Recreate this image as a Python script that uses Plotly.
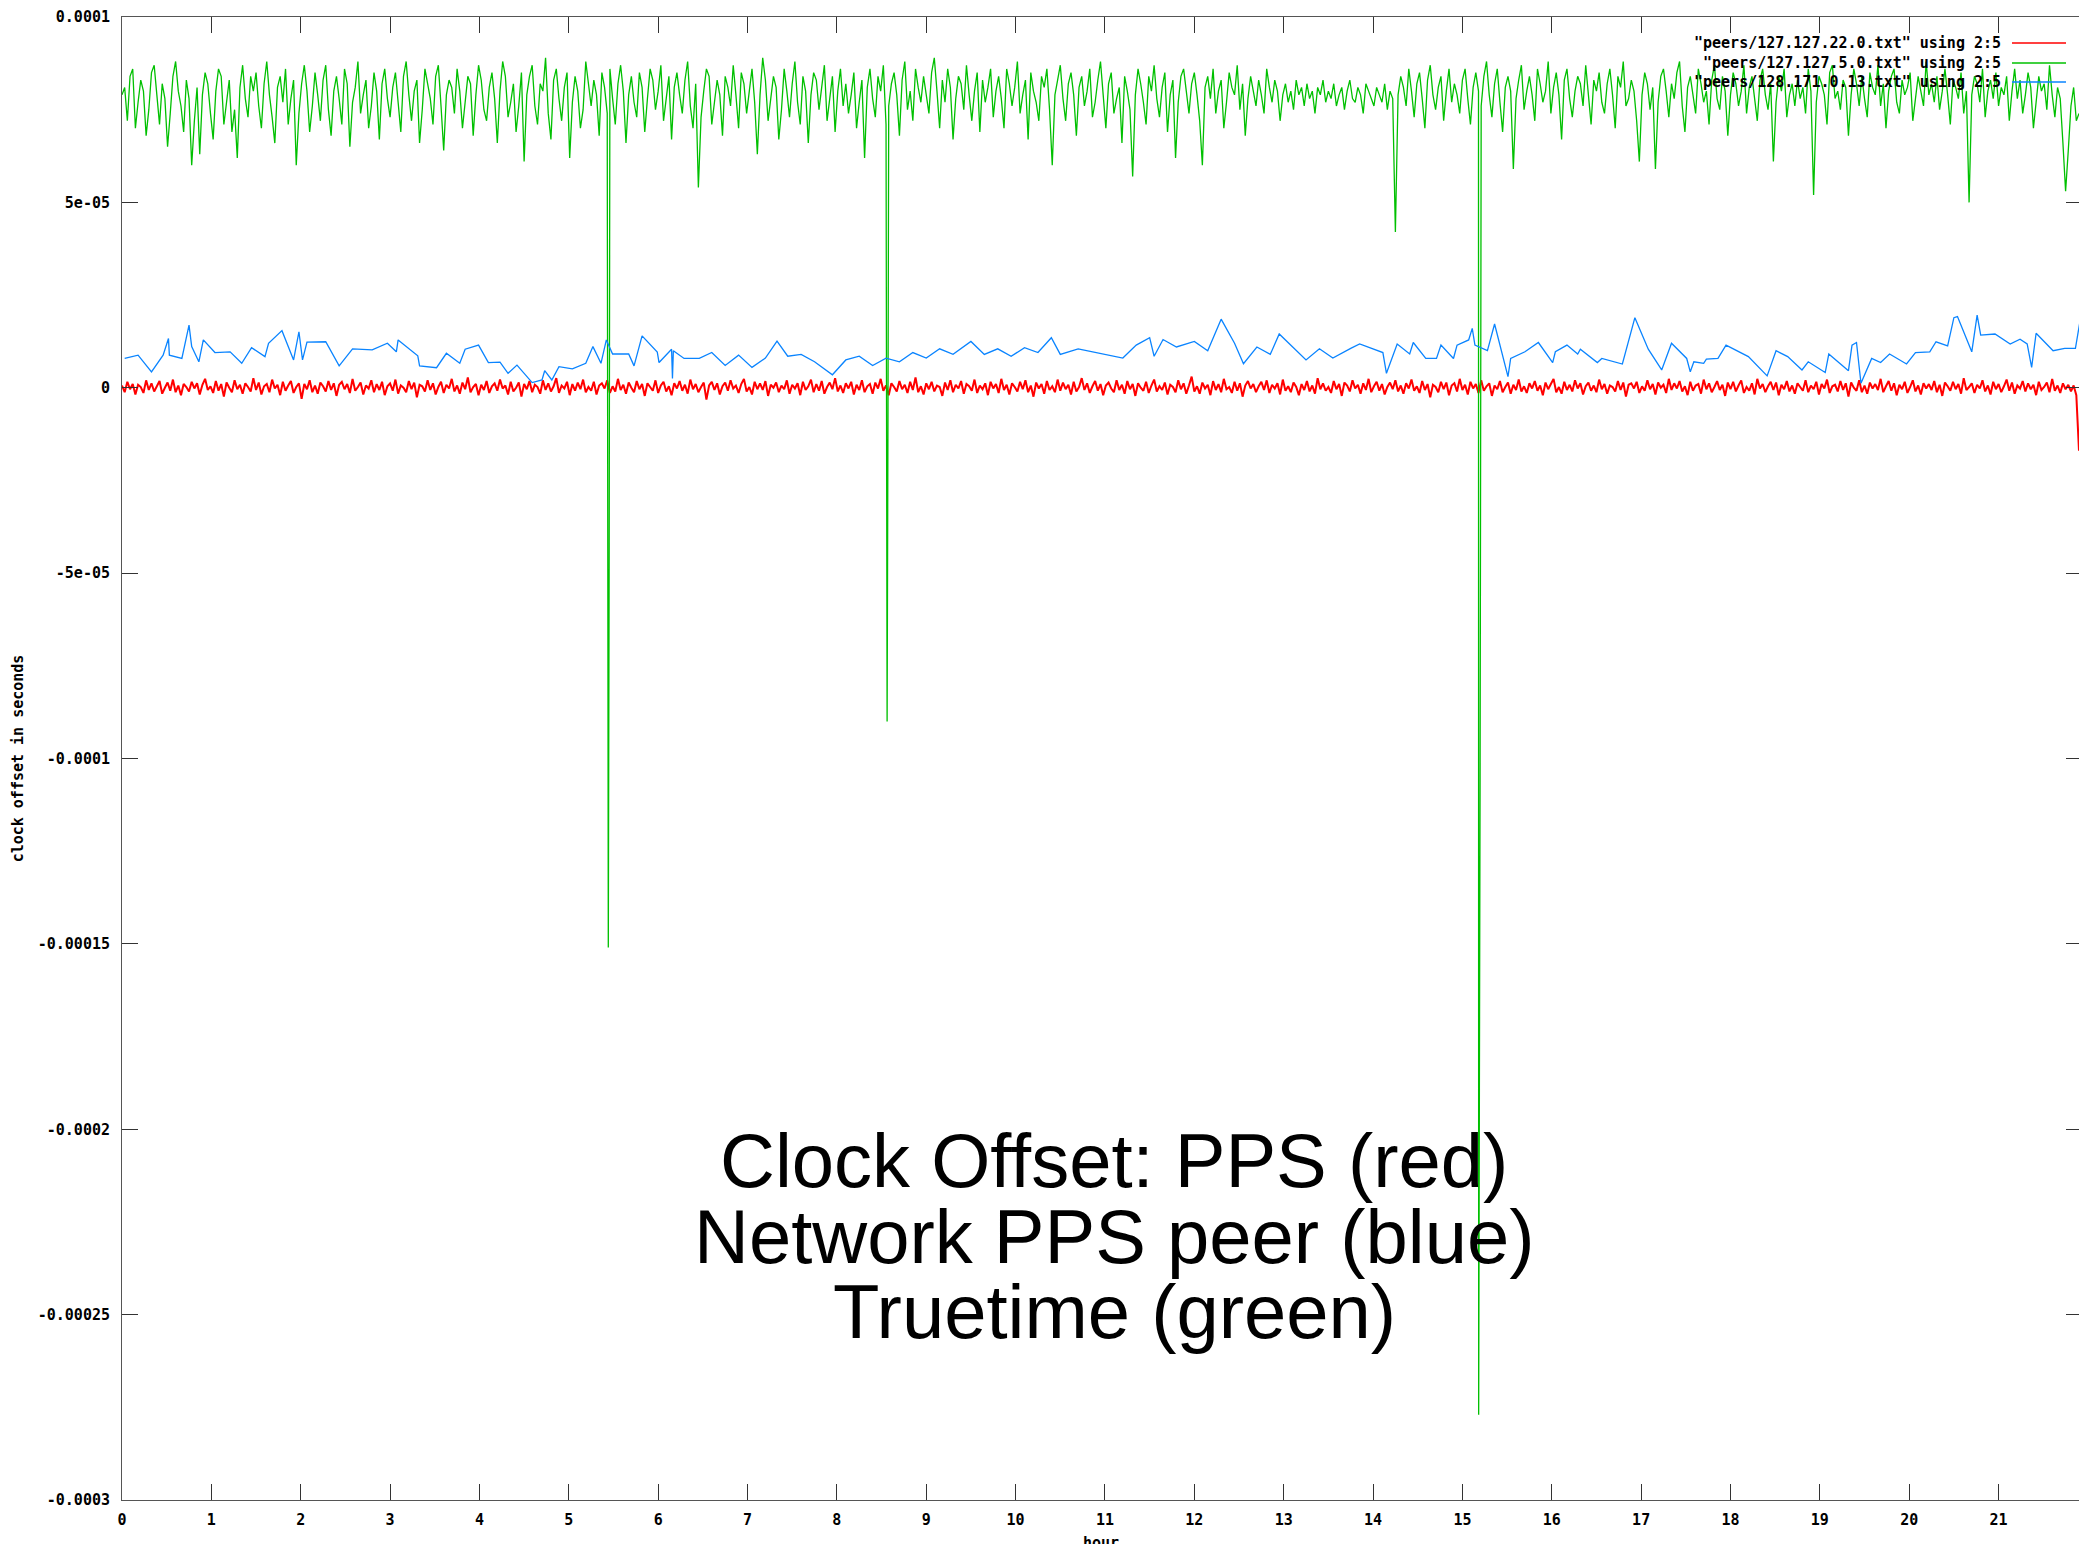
import numpy as np
import plotly.graph_objects as go

# ---------------- data ----------------
x_tick_hours = list(range(22))
y_tick_values = [1e-4, 5e-5, 0, -5e-5, -1e-4, -1.5e-4, -2e-4, -2.5e-4, -3e-4]
y_tick_labels = ["0.0001", "5e-05", "0", "-5e-05", "-0.0001", "-0.00015",
                 "-0.0002", "-0.00025", "-0.0003"]
x_axis_title = "hour"
y_axis_title = "clock offset in seconds"

series_names = ['"peers/127.127.22.0.txt" using 2:5',
                '"peers/127.127.5.0.txt" using 2:5',
                '"peers/128.171.0.13.txt" using 2:5']
series_colors = ["#ff0000", "#00c000", "#0a84ff"]

caption_lines = ["Clock Offset: PPS (red)", "Network PPS peer (blue)", "Truetime (green)"]

# PPS (red): offset in units of 0.2 microseconds, sampled every 0.03 h
pps_step_h = 0.03
pps_unit_s = 2e-7
pps_offset_units = [
    3, -6, 8, -2, 5, -9, 4, 1, -7, 10, -3, 6, -5, 2, 9, -8, 0, 7, -4, 11, -6, 3, -10, 5, 1,
    -5, 8, -1, 6, -9, 4, 12, -3, 2, -7, 9, -4, 5, -12, 7, 0, -6, 10, -2, 4, -8, 6, 1, -5, 13,
    -3, 7, -9, 2, 5, -6, 11, -1, 4, -10, 8, -4, 3, 9, -7, 1, 6, -15, 5, -2, 10, -6, 3, -8, 7,
    2, -5, 9, -3, 6, -11, 4, 8, -2, 5, -7, 12, -4, 1, 7, -9, 3, -1, 10, -6, 5, -3, 8, -10, 2,
    6, -4, 11, -8, 3, 0, -6, 9, -2, 7, -13, 4, 2, -5, 10, -3, 6, -9, 1, 8, -7, 4, -1, 12, -5,
    3, -8, 7, -2, 14, -6, 1, 5, -10, 4, -3, 9, -7, 2, 6, -4, 11, -1, 3, -9, 8, -5, 0, 7, -12,
    5, -2, 9, -6, 4, 1, -8, 10, -3, 6, -5, 2, 13, -7, 3, -1, 8, -10, 5, -4, 7, -2, 11, -6, 1,
    -4, 8, -9, 3, 6, -1, 10, -7, 2, -5, 12, -3, 4, -8, 7, 0, -6, 9, -2, 5, -11, 6, 1, -4, 10,
    -7, 3, 8, -5, 2, -10, 6, -1, 9, -4, 4, -8, 11, -2, 5, -6, 1, 7, -16, 3, 8, -3, 6, -9, 2,
    7, -4, 10, -1, 3, -7, 5, 12, -5, 1, -9, 8, -2, 6, -3, 9, -11, 4, 0, 7, -6, 3, -2, 10, -8,
    4, -1, 6, -10, 8, -3, 2, 11, -6, 5, -4, 9, -8, 1, 7, -2, 13, -5, 3, -7, 6, -1, 8, -9, 4,
    -3, 10, -6, 2, 5, -8, 7, -1, 12, -4, 3, -10, 6, 1, -5, 9, -2, 4, -7, 8, -3, 14, -6, 2, -9,
    6, -2, 8, -5, 3, 1, -11, 7, -3, 10, -6, 4, -1, 9, -8, 5, 2, -4, 11, -7, 3, -2, 6, -10, 8,
    -1, 5, -7, 12, -3, 4, -9, 6, 1, -5, 8, -2, 10, -6, 3, -12, 7, -1, 5, -8, 9, -3, 2, -6, 11,
    -4, 7, -2, 4, -9, 8, -5, 1, 13, -3, 6, -7, 2, 9, -4, 5, -10, 3, 7, -1, -6, 10, -3, 4, -8,
    9, -2, 5, -11, 6, 0, -4, 8, -7, 3, 11, -5, 2, -3, 7, -9, 4, 1, -6, 10, -2, 6, -8, 3, 15,
    -5, 2, -8, 7, -1, 4, -10, 9, -3, 5, -6, 12, -2, 1, -7, 8, -4, 6, -12, 3, 9, -1, 5, -6, 2,
    8, -3, 10, -7, 4, -1, 6, -9, 11, -4, 2, -6, 7, 1, -10, 5, -3, 9, -5, 3, -8, 13, -2, 6, -4,
    1, -7, 9, -2, 5, -11, 7, 3, -5, 10, -1, 4, -8, 6, -3, 12, -6, 2, 8, -4, 5, -9, 1, 7, -2,
    10, -5, 3, -8, 6, -1, 11, -4, 2, -7, 9, -3, 5, -13, 4, 1, -6, 8, -2, 7, -10, 3, 6, -5, 12,
    -3, 4, -9, 8, -1, 5, -7, 10, -4, 2, 6, -11, 3, -2, 9, -6, 1, 7, -8, 4, -3, 11, -5, 2, -7,
    6, -1, 9, -4, 3, -10, 7, -2, 5, 12, -6, 1, -8, 8, -3, 4, -5, 10, -1, 6, -9, 2, 7, -4, 3,
    -6, 11, -2, 5, -8, 3, 1, -5, 9, -3, 7, -12, 4, 6, -1, 8, -7, 2, -4, 10, -2, 5, -9, 7, 0,
    4, -7, 12, -3, 6, -1, 9, -5, 2, -10, 8, -4, 3, 5, -8, 11, -2, 6, -6, 1, 9, -3, 4, -11, 7,
    -2, 8, -5, 3, 10, -7, 1, -4, 6, -9, 12, -1, 5, -6, 2, 8, -3, 7, -10, 4, -2, 9, -5, 3, -8,
    6, 1, -4, 10, -6, 3, -2, 8, -9, 5, -1, 11, -7, 2, 4, -5, 9, -3, 6, -12, 7, 0, -4, 10, -6,
    3, -8, 7, -1, 5, -3, 12, -6, 2, 9, -4, 6, -10, 4, -2, 8, -7, 1, 10, -5, 3, -9, 6, -1, 5,
    -3, 9, -6, 4, -11, 7, 2, -4, 8, -2, 5, -8, 13, -3, 1, 6, -7, 4, -1, 10, -5, 3, -9, 8, -2,
    5, -6, 2, 11, -4, 7, -8, 3, -1, 9, -5, 6, -2, 4, -10, 8, -3, 1, 7, -6, 12, -4, 3, -7, 6,
    -2, 4, -5, 3, -10, -85,
]

# Truetime (green): offset in microseconds, sampled every 0.03 h
truetime_step_h = 0.03
truetime_us = [
    79, 81, 72, 84, 86, 70, 77, 83, 80, 68, 75, 85, 87, 79, 71, 82, 78, 65, 74, 84, 88, 80, 76, 69, 83,
    78, 60, 72, 81, 63, 79, 85, 82, 74, 67, 80, 86, 84, 71, 77, 83, 69, 75, 62, 81, 87, 78, 73, 84, 80,
    85, 76, 70, 82, 88, 79, 73, 66, 81, 84, 77, 86, 71, 78, 83, 60, 74, 82, 87, 80, 69, 76, 85, 79, 72,
    83, 87, 75, 68, 80, 84, 78, 71, 86, 82, 65, 77, 81, 88, 74, 79, 83, 70, 76, 85, 80, 67, 82, 86, 78,
    73, 81, 85, 77, 69, 84, 88, 79, 72, 80, 83, 66, 75, 86, 82, 78, 71, 84, 87, 76, 64, 79, 83, 81, 74,
    86, 80, 70, 77, 84, 82, 68, 79, 87, 83, 75, 72, 81, 85, 78, 66, 80, 88, 84, 73, 77, 82, 69, 76, 85,
    61, 79, 84, 87, 76, 71, 82, 80, 89, 74, 67, 83, 86, 78, 72, 81, 85, 62, 77, 84, 80, 70, 75, 88, 82,
    76, 83, 79, 68, 85, 81, 74, 86, 78, 71, 82, 87, 80, 66, 79, 84, 77, 73, 85, 81, 69, 78, 86, 83, 75,
    80, 87, 72, 78, 84, 67, 81, 85, 79, 74, 83, 88, 76, 70, 82, 54, 73, 80, 86, 84, 71, 77, 83, 79, 68,
    84, 81, 76, 87, 79, 70, 85, 82, 74, 80, 86, 77, 63, 79, 89, 83, 72, 78, 84, 81, 67, 75, 86, 80, 73,
    82, 88, 77, 71, 84, 80, 66, 79, 85, 83, 75, 81, 87, 72, 78, 84, 69, 80, 86, 76, 82, 74, 79, 85, 70,
    77, 83, 62, 81, 86, 78, 73, 84, 80, 87, 71, 76, 82, 85, 79, 68, 83, 88, 75, 80, 72, 86, 81, 77, 84,
    79, 74, 85, 89, 80, 70, 83, 77, 86, 81, 67, 78, 84, 82, 75, 87, 79, 72, 80, 85, 69, 83, 77, 81, 86,
    73, 80, 84, 78, 70, 86, 82, 76, 81, 88, 74, 79, 83, 67, 85, 80, 77, 72, 84, 81, 86, 75, 60, 79, 83,
    87, 78, 72, 82, 85, 79, 68, 81, 84, 76, 80, 86, 73, 77, 83, 88, 79, 70, 82, 85, 74, 78, 81, 66, 84,
    80, 75, 57, 79, 86, 82, 77, 71, 84, 80, 87, 78, 73, 81, 85, 69, 79, 83, 62, 77, 84, 86, 80, 74, 82,
    85, 79, 72, 60, 81, 84, 78, 86, 74, 80, 83, 70, 77, 85, 81, 79, 87, 75, 82, 68, 78, 84, 80, 76, 83,
    79, 74, 86, 81, 77, 83, 80, 72, 79, 82, 77, 80, 75, 83, 79, 81, 76, 82, 78, 80, 74, 81, 79, 83, 77,
    80, 78, 82, 76, 79, 81, 75, 80, 83, 78, 77, 81, 79, 74, 82, 80, 78, 76, 81, 79, 77, 82, 75, 80, 78,
    42, 79, 84, 81, 76, 86, 80, 73, 82, 85, 78, 70, 83, 87, 79, 75, 81, 84, 72, 80, 86, 77, 82, 79, 74,
    83, 86, 78, 71, 81, 85, 80, 76, 84, 88, 79, 73, 82, 86, 77, 69, 81, 84, 80, 59, 78, 83, 87, 75, 80,
    84, 79, 72, 86, 82, 77, 80, 88, 74, 81, 85, 79, 67, 83, 86, 78, 73, 80, 84, 82, 76, 87, 79, 71, 83,
    80, 85, 77, 74, 82, 86, 79, 70, 84, 81, 88, 76, 78, 83, 80, 72, 61, 79, 85, 82, 75, 81, 59, 77, 84,
    86, 80, 73, 82, 78, 85, 88, 76, 69, 81, 84, 79, 74, 86, 82, 77, 80, 71, 83, 87, 78, 75, 84, 80, 68,
    79, 85, 82, 76, 80, 87, 74, 81, 84, 78, 72, 83, 86, 79, 75, 82, 61, 77, 84, 80, 86, 73, 79, 82, 76,
    83, 78, 81, 74, 86, 80, 52, 77, 84, 82, 79, 71, 85, 87, 78, 80, 75, 83, 81, 68, 79, 86, 82, 76, 84,
    78, 73, 85, 81, 79, 87, 76, 82, 70, 80, 84, 86, 77, 74, 83, 79, 81, 85, 72, 78, 84, 80, 76, 88, 79,
    82, 77, 84, 75, 80, 86, 79, 71, 83, 81, 78, 85, 74, 80, 50, 79, 84, 82, 77, 86, 73, 80, 83, 78, 85,
    76, 81, 79, 84, 72, 80, 86, 78, 83, 74, 79, 85, 81, 70, 77, 84, 80, 82, 75, 87, 79, 73, 81, 78, 66,
    53, 64, 76, 81, 72, 74,
]
# short excursions of the Truetime clock (hour, microseconds)
truetime_spike_hours = [5.442, 5.452, 8.562, 8.572, 15.182, 15.19, 15.198]
truetime_spike_us = [-151, -42, -90, -6, -277, -189, -105]

# Network PPS peer (blue): poll times (hours) and offsets (microseconds)
peer_hours = [
    0.03, 0.18, 0.33, 0.46, 0.52, 0.53, 0.67, 0.75, 0.78, 0.86, 0.91, 1.04, 1.21, 1.34, 1.45,
    1.60, 1.64, 1.79, 1.92, 1.98, 2.02, 2.07, 2.28, 2.43, 2.58, 2.80, 2.97, 3.07, 3.09, 3.31,
    3.33, 3.52, 3.63, 3.78, 3.84, 3.99, 4.10, 4.23, 4.32, 4.42, 4.59, 4.70, 4.73, 4.81, 4.89,
    5.04, 5.19, 5.27, 5.36, 5.42, 5.49, 5.67, 5.73, 5.77, 5.82, 5.99, 6.01, 6.15, 6.16, 6.17,
    6.29, 6.46, 6.60, 6.75, 6.90, 7.05, 7.20, 7.33, 7.45, 7.60, 7.75, 7.95, 8.10, 8.25, 8.40,
    8.55, 8.70, 8.85, 9.00, 9.15, 9.30, 9.50, 9.65, 9.80, 9.95, 10.10, 10.25, 10.40, 10.50, 10.70,
    10.85, 11.00, 11.20, 11.35, 11.50, 11.55, 11.65, 11.80, 12.00, 12.15, 12.30, 12.45, 12.55, 12.70, 12.85,
    12.95, 13.10, 13.25, 13.40, 13.55, 13.75, 13.85, 14.11, 14.15, 14.27, 14.41, 14.45, 14.59, 14.71, 14.76,
    14.90, 14.94, 15.07, 15.11, 15.14, 15.28, 15.36, 15.51, 15.54, 15.70, 15.85, 16.01, 16.04, 16.17, 16.29,
    16.32, 16.51, 16.56, 16.79, 16.93, 17.08, 17.23, 17.34, 17.51, 17.55, 17.59, 17.70, 17.73, 17.86, 17.95,
    18.20, 18.41, 18.51, 18.64, 18.80, 18.87, 19.06, 19.10, 19.32, 19.36, 19.41, 19.46, 19.58, 19.68, 19.78,
    19.97, 20.07, 20.23, 20.30, 20.43, 20.50, 20.54, 20.70, 20.76, 20.80, 20.96, 21.13, 21.24, 21.32, 21.37,
    21.42, 21.61, 21.74, 21.86, 21.91,
]
peer_us = [
    7.9, 8.8, 4.3, 8.8, 13.3, 8.8, 7.9, 16.9, 11.1, 7.0, 12.9, 9.5, 9.7, 6.6, 10.8,
    8.4, 12.0, 15.4, 7.5, 15.1, 7.5, 12.3, 12.4, 5.9, 10.5, 10.2, 12.0, 9.7, 12.9, 8.6,
    5.9, 5.4, 9.3, 6.6, 10.4, 11.5, 6.8, 6.9, 3.9, 6.1, 1.4, 2.1, 4.6, 2.1, 5.7,
    5.1, 6.6, 11.1, 6.6, 12.9, 9.1, 9.1, 5.9, 9.7, 14.0, 9.6, 6.8, 10.4, 2.5, 10.0,
    7.9, 7.9, 9.5, 6.0, 8.8, 5.5, 8.0, 12.6, 8.5, 9.0, 7.0, 3.5, 7.5, 8.5, 6.0,
    8.0, 7.0, 9.5, 8.0, 10.5, 9.0, 12.5, 9.0, 10.5, 8.5, 10.8, 9.5, 13.5, 9.0, 10.5,
    9.8, 9.0, 8.0, 11.5, 13.5, 8.5, 13.0, 11.0, 12.5, 10.0, 18.5, 12.0, 6.5, 11.0, 9.0,
    14.5, 11.0, 7.5, 10.5, 8.0, 10.6, 11.8, 9.5, 3.9, 11.8, 9.1, 12.2, 7.9, 7.9, 11.5,
    7.9, 11.5, 12.9, 16.0, 11.5, 10.0, 17.2, 3.0, 7.9, 9.7, 12.2, 6.8, 9.7, 11.5, 9.1,
    10.4, 6.8, 7.9, 6.4, 18.9, 10.4, 4.8, 12.0, 7.9, 4.3, 7.0, 6.6, 7.7, 7.9, 11.5,
    8.4, 3.2, 10.0, 8.4, 4.8, 7.0, 4.1, 9.1, 4.6, 11.5, 12.2, 1.2, 7.9, 6.8, 9.1,
    6.4, 9.5, 9.7, 12.4, 11.3, 18.9, 19.2, 9.7, 19.6, 14.2, 14.5, 11.8, 13.1, 11.8, 5.5,
    14.7, 10.0, 10.6, 10.6, 17.8,
]

# ---------------- layout geometry ----------------
W, H = 2079, 1544
M_L, M_R, M_T, M_B = 122, 0, 17, 44
PW, PH = W - M_L - M_R, H - M_T - M_B


def px_x(px):
    return (px - M_L) / PW


def px_y(py):
    return (M_T + PH - py) / PH


MONO = "DejaVu Sans Mono"
tick_font = dict(family=MONO, size=15, color="#000000", weight="bold")

# ---------------- traces ----------------
pps_hours = np.arange(len(pps_offset_units)) * pps_step_h
pps_sec = np.array(pps_offset_units, float) * pps_unit_s

tt_hours = np.concatenate([np.arange(len(truetime_us)) * truetime_step_h, truetime_spike_hours])
tt_vals = np.concatenate([np.array(truetime_us, float), np.array(truetime_spike_us, float)]) * 1e-6
order = np.argsort(tt_hours, kind="stable")
tt_hours, tt_vals = tt_hours[order], tt_vals[order]

peer_sec = np.array(peer_us) * 1e-6

fig = go.Figure()
fig.add_trace(go.Scatter(x=pps_hours, y=pps_sec, mode="lines", name=series_names[0],
                         line=dict(color=series_colors[0], width=2.0, simplify=False),
                         showlegend=False))
fig.add_trace(go.Scatter(x=tt_hours, y=tt_vals, mode="lines", name=series_names[1],
                         line=dict(color=series_colors[1], width=1.3, simplify=False),
                         showlegend=False))
fig.add_trace(go.Scatter(x=peer_hours, y=peer_sec, mode="lines", name=series_names[2],
                         line=dict(color=series_colors[2], width=1.3), showlegend=False))
# helper trace so the right-hand mirrored tick axis is drawn
fig.add_trace(go.Scatter(x=[None], y=[None], yaxis="y2", showlegend=False, hoverinfo="skip"))

# ---------------- legend (gnuplot style: text then sample on the right) ----------------
legend_rows_px = [43, 63, 82]
annotations = []
shapes = []
for name, color, row in zip(series_names, series_colors, legend_rows_px):
    annotations.append(dict(xref="paper", yref="paper", x=px_x(2003), y=px_y(row),
                            xanchor="right", yanchor="middle", text=name, showarrow=False,
                            font=tick_font))
    shapes.append(dict(type="line", xref="paper", yref="paper", x0=px_x(2012), x1=px_x(2066),
                       y0=px_y(row), y1=px_y(row), line=dict(color=color, width=1.3)))

caption_centers_px = [1160, 1236, 1311]
for line_text, cy in zip(caption_lines, caption_centers_px):
    annotations.append(dict(xref="paper", yref="paper", x=px_x(1114), y=px_y(cy),
                            xanchor="center", yanchor="middle", text=line_text, showarrow=False,
                            font=dict(family="Liberation Sans, Arial, Helvetica",
                                      size=76, color="#000000")))

# x-axis title placed like gnuplot's (partly below the picture edge)
annotations.append(dict(xref="paper", yref="paper", x=0.5, y=px_y(1532),
                        xanchor="center", yanchor="top", text=x_axis_title, showarrow=False,
                        font=tick_font))

axis_common = dict(showgrid=False, zeroline=False, ticks="inside", ticklen=16, tickwidth=1,
                   tickcolor="#333333", linecolor="#555555", linewidth=1, automargin=False)

fig.update_layout(
    width=W, height=H,
    margin=dict(l=M_L, r=M_R, t=M_T, b=M_B, pad=0),
    paper_bgcolor="white", plot_bgcolor="white",
    showlegend=False,
    xaxis=dict(range=[0, 21.9], tickvals=x_tick_hours, ticktext=[str(h) for h in x_tick_hours],
               showline=True, mirror="ticks", tickfont=tick_font, ticklabelstandoff=6,
               **axis_common),
    yaxis=dict(range=[-3e-4, 1e-4], tickvals=y_tick_values, ticktext=y_tick_labels,
               showline=True, mirror=False, tickfont=tick_font, ticklabelstandoff=8,
               title=dict(text=y_axis_title, font=tick_font, standoff=10),
               **axis_common),
    yaxis2=dict(range=[-3e-4, 1e-4], tickvals=y_tick_values, overlaying="y", side="right",
                showticklabels=False, showline=False, showgrid=False, zeroline=False,
                ticks="inside", ticklen=13, tickwidth=1, tickcolor="#333333", automargin=False),
    annotations=annotations,
    shapes=shapes,
)

fig.write_html("out.html",
               config={"displayModeBar": False},
               post_script="document.body.style.margin='0px';"
                           "document.body.style.overflow='hidden';")
